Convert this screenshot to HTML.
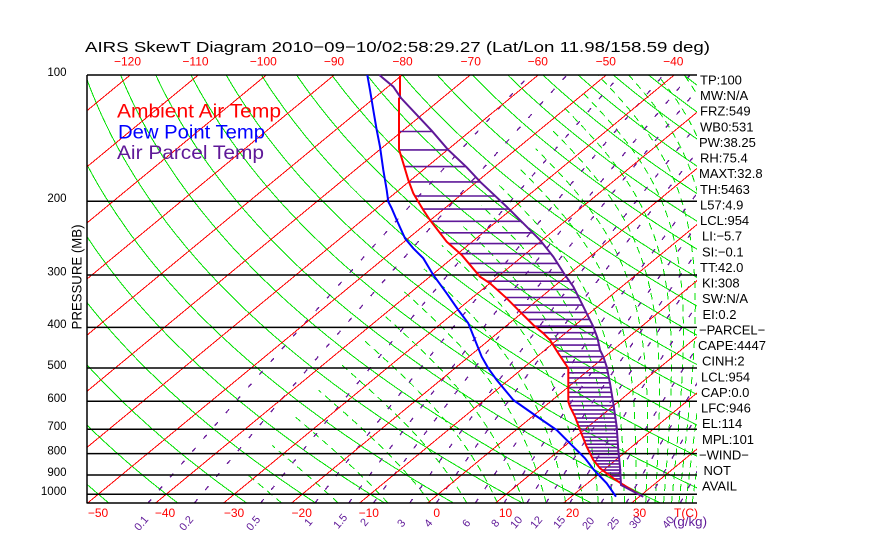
<!DOCTYPE html>
<html><head><meta charset="utf-8">
<style>
html,body{margin:0;padding:0;background:#fff;}
svg{display:block;}
text{font-family:"Liberation Sans",sans-serif;}
</style></head>
<body>
<svg id="s" width="870" height="560" viewBox="0 0 870 560" xmlns="http://www.w3.org/2000/svg">
<defs><clipPath id="c"><rect x="87" y="75" width="610" height="428"/></clipPath></defs>
<rect x="0" y="0" width="870" height="560" fill="#fff"/>
<g id="grid" clip-path="url(#c)" shape-rendering="crispEdges"></g>
<g stroke="#000" stroke-width="1.5" fill="none">
<line x1="87" y1="75" x2="697" y2="75"/>
<line x1="87" y1="75" x2="87" y2="503.5"/>
<line x1="87" y1="503" x2="697" y2="503"/>
<line x1="87" y1="201.2" x2="697" y2="201.2"/>
<line x1="87" y1="275" x2="697" y2="275"/>
<line x1="87" y1="327.4" x2="697" y2="327.4"/>
<line x1="87" y1="368" x2="697" y2="368"/>
<line x1="87" y1="401.2" x2="697" y2="401.2"/>
<line x1="87" y1="429.3" x2="697" y2="429.3"/>
<line x1="87" y1="453.6" x2="697" y2="453.6"/>
<line x1="87" y1="475" x2="697" y2="475"/>
<line x1="87" y1="494.2" x2="697" y2="494.2"/>
</g>
<g id="hat" stroke="#5f1898" stroke-width="1.6"></g>
<polyline id="red" fill="none" stroke="#ff0000" stroke-width="2" points="400,75 400,98 399,98.5 399,149.3 403.3,163.3 408.3,180 413.3,193.3 418.3,201.7 423.3,210 430,220 446.7,241.7 461.7,255 480,276.7 490,283.3 506.7,298.3 520,311.7 533.3,325 543.3,333.3 550,340 558.3,353.3 568.3,368.3 568.3,401.7 570,406.7 575,416.7 580,430 586.7,446.7 593.3,460 600,468.3 613.3,478.3 622,484 641.7,496"/>
<polyline id="blue" fill="none" stroke="#0000ff" stroke-width="2" points="367.3,75 370,90 373.3,110 376.7,130 380,146.7 383.3,170 386.7,190 388.3,201.7 391.7,208.3 396.7,220 405,238.3 413.3,248.3 423.3,258.3 433.3,275 446.7,293.3 458.3,310 468.3,323.3 475,340 481.7,356.7 488.3,368.3 496.7,380 513.3,400 533.3,414 556.7,430 573.3,446.7 585,458.3 594,470 606.7,483.3 616,496.7"/>
<polyline id="par" fill="none" stroke="#5f1898" stroke-width="2" points="379.3,75 393.3,86.7 401,98 431.7,130.7 447.7,149.3 466.7,167.3 480.7,182.3 496.7,197.3 510,210 523.3,223.3 540,240 553.3,256.7 565,275 573.3,286.7 581.7,303.3 588.3,316.7 593.3,326.7 597.5,338 600,350 603.3,356.7 606.7,366.7 610,383.3 613.3,403.3 616.7,426.7 618.3,450 620,466.7 621,485 643.3,496.7"/>

<text x="85" y="52" font-size="15" fill="#000" textLength="625" lengthAdjust="spacingAndGlyphs">AIRS SkewT Diagram 2010−09−10/02:58:29.27 (Lat/Lon 11.98/158.59 deg)</text>

<g font-size="12" fill="#ff0000" text-anchor="middle">
<text x="127.5" y="65.7">−120</text>
<text x="195.5" y="65.7">−110</text>
<text x="263.3" y="65.7">−100</text>
<text x="334" y="65.7">−90</text>
<text x="402.5" y="65.7">−80</text>
<text x="470.7" y="65.7">−70</text>
<text x="537.8" y="65.7">−60</text>
<text x="605.8" y="65.7">−50</text>
<text x="673.3" y="65.7">−40</text>
<text x="98" y="517">−50</text>
<text x="165" y="517">−40</text>
<text x="234" y="517">−30</text>
<text x="301.7" y="517">−20</text>
<text x="368.8" y="517">−10</text>
<text x="436.7" y="517">0</text>
<text x="505.5" y="517">10</text>
<text x="572.5" y="517">20</text>
<text x="639.5" y="517">30</text>
<text x="686" y="517">T(C)</text>
</g>

<g font-size="11.5" fill="#000" text-anchor="end">
<text x="66.5" y="76">100</text>
<text x="66.5" y="202">200</text>
<text x="66.5" y="275.5">300</text>
<text x="66.5" y="328">400</text>
<text x="66.5" y="369">500</text>
<text x="66.5" y="402">600</text>
<text x="66.5" y="430">700</text>
<text x="66.5" y="454.5">800</text>
<text x="66.5" y="476">900</text>
<text x="66.5" y="495">1000</text>
</g>
<text transform="translate(81.5,277) rotate(-90)" font-size="14" fill="#000" text-anchor="middle" textLength="105" lengthAdjust="spacingAndGlyphs">PRESSURE (MB)</text>

<text x="117" y="117.3" font-size="19" fill="#ff0000" textLength="164" lengthAdjust="spacingAndGlyphs">Ambient Air Temp</text>
<text x="118" y="138.3" font-size="19" fill="#0000ff" textLength="147" lengthAdjust="spacingAndGlyphs">Dew Point Temp</text>
<text x="117" y="159" font-size="19" fill="#5f1898" textLength="147" lengthAdjust="spacingAndGlyphs">Air Parcel Temp</text>

<g font-size="13" fill="#000">
<text x="700" y="84.5">TP:100</text>
<text x="700" y="100.1">MW:N/A</text>
<text x="700" y="115.7">FRZ:549</text>
<text x="700" y="131.4">WB0:531</text>
<text x="699" y="147">PW:38.25</text>
<text x="700" y="162.6">RH:75.4</text>
<text x="699" y="178.2">MAXT:32.8</text>
<text x="700" y="193.8">TH:5463</text>
<text x="700" y="209.5">L57:4.9</text>
<text x="700" y="225.1">LCL:954</text>
<text x="702" y="240.7">LI:−5.7</text>
<text x="702" y="256.3">SI:−0.1</text>
<text x="700" y="271.9">TT:42.0</text>
<text x="702" y="287.6">KI:308</text>
<text x="702" y="303.2">SW:N/A</text>
<text x="702.5" y="318.8">EI:0.2</text>
<text x="699" y="334.4">−PARCEL−</text>
<text x="698" y="350">CAPE:4447</text>
<text x="702" y="365.7">CINH:2</text>
<text x="701" y="381.3">LCL:954</text>
<text x="701" y="396.9">CAP:0.0</text>
<text x="701" y="412.5">LFC:946</text>
<text x="702" y="428.1">EL:114</text>
<text x="702" y="443.8">MPL:101</text>
<text x="699" y="459.4">−WIND−</text>
<text x="703.5" y="475">NOT</text>
<text x="702" y="490.6">AVAIL</text>
</g>

<g font-size="11" fill="#5f1898" text-anchor="middle">
<text transform="translate(141,523) rotate(-50)" dy="4">0.1</text>
<text transform="translate(186,523) rotate(-50)" dy="4">0.2</text>
<text transform="translate(253,523) rotate(-50)" dy="4">0.5</text>
<text transform="translate(308,522) rotate(-50)" dy="4">1</text>
<text transform="translate(340,521) rotate(-50)" dy="4">1.5</text>
<text transform="translate(364,522) rotate(-50)" dy="4">2</text>
<text transform="translate(401,523) rotate(-50)" dy="4">3</text>
<text transform="translate(428,523) rotate(-50)" dy="4">4</text>
<text transform="translate(466,523) rotate(-50)" dy="4">6</text>
<text transform="translate(495,523) rotate(-50)" dy="4">8</text>
<text transform="translate(516,522) rotate(-50)" dy="4">10</text>
<text transform="translate(536,522) rotate(-50)" dy="4">12</text>
<text transform="translate(559,522) rotate(-50)" dy="4">15</text>
<text transform="translate(588,523) rotate(-50)" dy="4">20</text>
<text transform="translate(613,523) rotate(-50)" dy="4">25</text>
<text transform="translate(635,522) rotate(-50)" dy="4">30</text>
<text transform="translate(668,522) rotate(-50)" dy="4">40</text>
</g>
<text x="673" y="526" font-size="12.5" fill="#5f1898" textLength="34" lengthAdjust="spacingAndGlyphs">(g/kg)</text>
</svg>
<script>
(function(){
var NS="http://www.w3.org/2000/svg";
function Y(p){return 75+182.05*Math.log(p/100);}
function X(T,p){return 427.5+6.8*T+1.2116*(503.1-Y(p));}
function add(par,tag,a){var e=document.createElementNS(NS,tag);for(var k in a)e.setAttribute(k,a[k]);par.appendChild(e);return e;}
var g=document.getElementById('grid');
function poly(pts,a){if(pts.length<2)return;var d='M'+pts.map(function(q){return q[0].toFixed(1)+' '+q[1].toFixed(1);}).join('L');a.d=d;a.fill='none';add(g,'path',a);}
var GREEN='#00e000';
for(var th=-50;th<=190;th+=10){var pts=[];for(var p=1050;p>=99;p-=5){var T=(th+273.15)*Math.pow(p/1000,0.286)-273.15;pts.push([X(T,p),Y(p)]);}poly(pts,{stroke:GREEN,'stroke-width':1});}
function es(t){return 6.112*Math.exp(17.67*t/(t+243.5));}
function thE(t,p){var e=es(t);if(e>p*0.5)return 1e4;var r=622*e/(p-e);var tk=t+273.15;return tk*Math.pow(1000/p,0.2854*(1-0.00028*r))*Math.exp((3.376/tk-0.00254)*r*(1+0.00081*r));}
for(var te=250;te<=470;te+=10){var pts=[];for(var p=1050;p>=99;p-=5){var lo=-140,hi=60;for(var i=0;i<40;i++){var m=(lo+hi)/2;if(thE(m,p)<te)lo=m;else hi=m;}var T=(lo+hi)/2;var e=es(T);var r=622*e/(p-e);if(r<0.3)break;pts.push([X(T,p),Y(p)]);}poly(pts,{stroke:GREEN,'stroke-width':1,'stroke-dasharray':'7 5'});}
[0.1,0.2,0.5,1,1.5,2,3,4,6,8,10,12,15,20,25,30,40].forEach(function(w){var pts=[];for(var p=1050;p>=99;p-=5){var e=w*p/(622+w);var L=Math.log(e/6.112);var T=243.5*L/(17.67-L);pts.push([X(T,p),Y(p)]);}poly(pts,{stroke:'#6a1b9a','stroke-width':1.3,'stroke-dasharray':'5 12'});});
for(var t=-140;t<=40;t+=10){add(g,'line',{x1:427.5+6.8*t,y1:503.1,x2:946.2+6.8*t,y2:75,stroke:'#ff0000','stroke-width':1});}
function parse(id){return document.getElementById(id).getAttribute('points').trim().split(/\s+/).map(function(s){var a=s.split(',');return [parseFloat(a[0]),parseFloat(a[1])];});}
function interp(pts,y){for(var i=0;i<pts.length-1;i++){var a=pts[i],b=pts[i+1];if(y>=a[1]&&y<=b[1]){if(b[1]==a[1])return b[0];return a[0]+(b[0]-a[0])*(y-a[1])/(b[1]-a[1]);}}return null;}
var R=parse('red'),P=parse('par'),h=document.getElementById('hat');
for(var k=0;k<=55;k++){var p=136.4+14.5*k;var y=Y(p);var xr=interp(R,y),xp=interp(P,y);if(xr!==null&&xp!==null&&xp>xr){add(h,'line',{x1:xr.toFixed(1),y1:y.toFixed(1),x2:xp.toFixed(1),y2:y.toFixed(1)});}}
})();
</script>
</body></html>
